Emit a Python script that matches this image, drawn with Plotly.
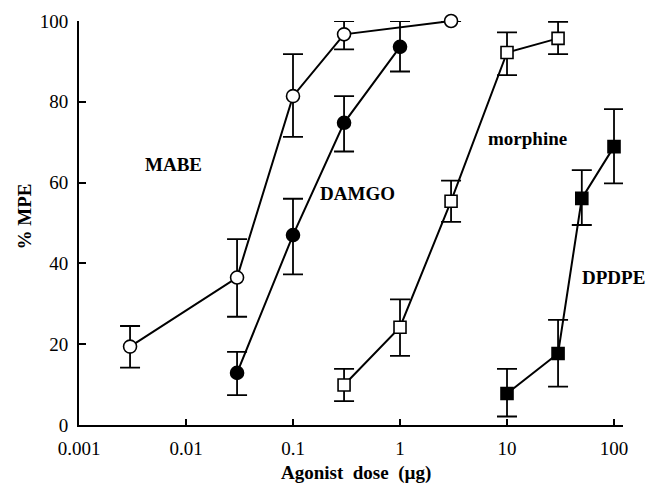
import math
import plotly.graph_objects as go

# ---- data ----
mabe_x = [0.003, 0.03, 0.1, 0.3, 3]
mabe_y = [19.4, 36.5, 81.4, 96.7, 100]
mabe_up = [5.1, 9.5, 10.4, 3.3, 0]
mabe_dn = [5.2, 9.7, 10.1, 3.7, 0]

damgo_x = [0.03, 0.1, 0.3, 1]
damgo_y = [12.9, 47.0, 74.8, 93.6]
damgo_up = [5.2, 9.0, 6.6, 6.4]
damgo_dn = [5.5, 9.7, 7.1, 6.1]

morph_x = [0.3, 1, 3, 10, 30]
morph_y = [9.9, 24.2, 55.4, 92.2, 95.7]
morph_up = [4.0, 6.9, 5.1, 5.0, 4.1]
morph_dn = [4.0, 7.1, 5.1, 5.6, 3.9]

dpdpe_x = [10, 30, 50, 100]
dpdpe_y = [7.8, 17.7, 56.1, 68.9]
dpdpe_up = [6.1, 8.3, 7.0, 9.3]
dpdpe_dn = [5.7, 8.2, 6.6, 9.1]

x_tickvals = [0.001, 0.01, 0.1, 1, 10, 100]
x_ticktext = ["0.001", "0.01", "0.1", "1", "10", "100"]
y_tickvals = [0, 20, 40, 60, 80, 100]

labels = ["MABE", "DAMGO", "morphine", "DPDPE"]
label_x = [0.0076, 0.40, 15.7, 98]
label_y = [64.6, 57.4, 71, 36.4]

FONT = "Liberation Serif"

fig = go.Figure()

def add_series(x, y, up, dn, symbol, fill):
    fig.add_trace(go.Scatter(
        x=x, y=y, mode="lines+markers",
        line=dict(color="black", width=2),
        marker=dict(symbol=symbol, size=13 if "circle" in symbol else 12,
                    color=fill, line=dict(color="black", width=1.6)),
        error_y=dict(type="data", symmetric=False, array=up, arrayminus=dn,
                     color="black", thickness=1.8, width=10),
        showlegend=False, cliponaxis=False,
    ))

add_series(mabe_x, mabe_y, mabe_up, mabe_dn, "circle", "white")
add_series(damgo_x, damgo_y, damgo_up, damgo_dn, "circle", "black")
add_series(morph_x, morph_y, morph_up, morph_dn, "square", "white")
add_series(dpdpe_x, dpdpe_y, dpdpe_up, dpdpe_dn, "square", "black")

for t, lx, ly in zip(labels, label_x, label_y):
    fig.add_annotation(x=math.log10(lx), y=ly, xref="x", yref="y", text="<b>%s</b>" % t,
                       xanchor="center", showarrow=False,
                       font=dict(family=FONT, size=19, color="black"))

fig.add_annotation(x=0.509, y=-0.119, xref="paper", yref="paper",
                   xanchor="center", yanchor="middle",
                   text="<b>Agonist  dose  (\u00b5g)</b>", showarrow=False,
                   font=dict(family=FONT, size=19, color="black"))
fig.add_annotation(x=-0.100, y=0.515, xref="paper", yref="paper", textangle=-90,
                   xanchor="center", yanchor="middle",
                   text="<b>% MPE</b>", showarrow=False,
                   font=dict(family=FONT, size=19, color="black"))

fig.update_xaxes(type="log", range=[-3, 2.084],
                 tickvals=x_tickvals, ticktext=x_ticktext,
                 ticks="inside", ticklen=6, tickwidth=2, tickcolor="black",
                 ticklabelstandoff=5,
                 showline=True, linecolor="black", linewidth=2,
                 showgrid=False, zeroline=False,
                 tickfont=dict(family=FONT, size=19, color="black"))
fig.update_yaxes(range=[0, 100], tickvals=y_tickvals,
                 ticks="inside", ticklen=7, tickwidth=2, tickcolor="black",
                 ticklabelstandoff=5,
                 showline=True, linecolor="black", linewidth=2,
                 showgrid=False, zeroline=False,
                 tickfont=dict(family=FONT, size=19, color="black"))

fig.update_layout(width=647, height=483,
                  margin=dict(l=79, r=24, t=21, b=58),
                  paper_bgcolor="white", plot_bgcolor="white")

# remove the page's default 8px body margin so the figure fills the window
fig.write_html("out.html",
               config={"displayModeBar": False, "staticPlot": True},
               post_script="document.body.style.margin='0';document.body.style.overflow='hidden';")
